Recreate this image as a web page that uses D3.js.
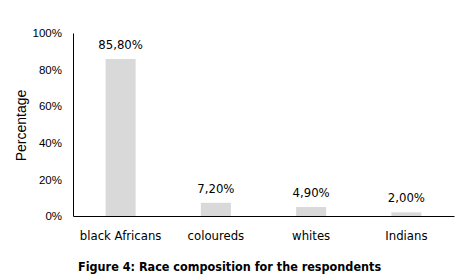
<!DOCTYPE html>
<html><head><meta charset="utf-8">
<script src="https://cdn.jsdelivr.net/npm/d3@7"></script>
<style>body{margin:0;background:#fff}svg{display:block}text{font-family:"DejaVu Sans Condensed","DejaVu Sans",sans-serif}</style>
</head><body>
<svg id="c" width="465" height="278"></svg>
<script>
const categories = ["black Africans", "coloureds", "whites", "Indians"];
const values = [85.8, 7.2, 4.9, 2.0];
const valueLabels = ["85,80%", "7,20%", "4,90%", "2,00%"];
const yTicks = [0, 20, 40, 60, 80, 100];

(function () {
const svg = d3.select("#c");
const mLeft = 73, mRight = 454, mTop = 33, mBottom = 216;
const ff = '"DejaVu Sans Condensed","DejaVu Sans",sans-serif';
const fa = '"Liberation Sans",Arial,sans-serif';
const x = d3.scaleBand().domain(categories).range([mLeft, mRight]).paddingInner(0.685).paddingOuter(0.3425);
const y = d3.scaleLinear().domain([0, 100]).range([mBottom, mTop]);

svg.selectAll("rect.bar").data(values).join("rect")
  .attr("class", "bar")
  .attr("x", (d, i) => x(categories[i]))
  .attr("y", d => y(d))
  .attr("width", x.bandwidth())
  .attr("height", d => y(0) - y(d))
  .attr("fill", "#d9d9d9");

svg.selectAll("text.val").data(values).join("text")
  .attr("class", "val")
  .attr("x", (d, i) => x(categories[i]) + x.bandwidth() / 2)
  .attr("y", d => y(d) - 10)
  .attr("text-anchor", "middle")
  .attr("font-size", 13)
  .text((d, i) => valueLabels[i]);

const ya = d3.axisLeft(y).tickValues(yTicks).tickSize(0).tickPadding(11).tickFormat(d => d + "%");
const gy = svg.append("g").attr("transform", `translate(${mLeft},0)`).call(ya);
gy.select(".domain").attr("stroke", "#000");
gy.selectAll("text").attr("font-size", 11.5).attr("fill", "#000").style("font-family", fa);

const xa = d3.axisBottom(x).tickSize(0).tickPadding(0);
const gx = svg.append("g").attr("transform", `translate(0,${mBottom})`).call(xa);
gx.select(".domain").attr("stroke", "#000");
gx.selectAll("text").attr("y", 23.5).attr("dy", 0).attr("font-size", 13).attr("fill", "#000").style("font-family", ff);

svg.append("text").attr("transform", "translate(26,125.5) rotate(-90)")
  .attr("text-anchor", "middle").attr("font-size", 14).style("font-family", fa).text("Percentage");

svg.append("text").attr("x", 78).attr("y", 271).attr("font-size", 12.5).attr("font-weight", "bold")
  .text("Figure 4: Race composition for the respondents");
})();
</script>
</body></html>
